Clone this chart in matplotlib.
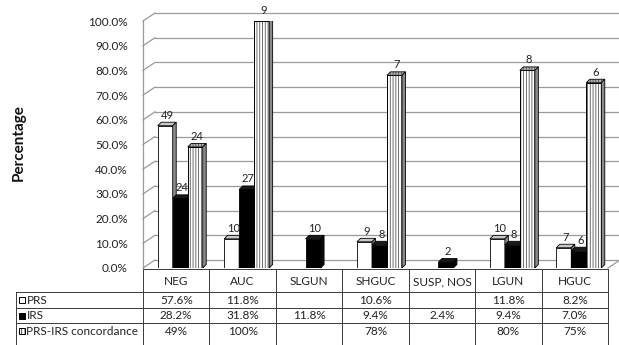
import matplotlib
matplotlib.use("Agg")
import matplotlib.pyplot as plt
from matplotlib.patches import Polygon, Rectangle

categories = ["NEG", "AUC", "SLGUN", "SHGUC", "SUSP, NOS", "LGUN", "HGUC"]
prs_pct = [57.6, 11.8, None, 10.6, None, 11.8, 8.2]
irs_pct = [28.2, 31.8, 11.8, 9.4, 2.4, 9.4, 7.0]
concord_pct = [49, 100, None, 78, None, 80, 75]
prs_n = [49, 10, None, 9, None, 10, 7]
irs_n = [24, 27, 10, 8, 2, 8, 6]
concord_n = [24, 9, None, 7, None, 8, 6]
series_names = ["PRS", "IRS", "PRS-IRS concordance"]
y_ticks = list(range(0, 101, 10))

W, H = 619, 345
plt.rcParams['font.family'] = ['Lato', 'DejaVu Sans']
plt.rcParams['hatch.linewidth'] = 0.6
fig = plt.figure(figsize=(W / 100, H / 100), dpi=100)


def px_box(x0, y0, x1, y1):
    """Pixel box (origin top-left) -> figure fraction rect."""
    return [x0 / W, 1 - y1 / H, (x1 - x0) / W, (y1 - y0) / H]


# pixel-space layer for the data table and side labels
tab = fig.add_axes([0, 0, 1, 1])
tab.set_xlim(0, W)
tab.set_ylim(H, 0)
tab.axis('off')

# chart layer
PL, PR, PT, PB = 143, 608, 21, 268
ax = fig.add_axes(px_box(PL, PT, PR, PB))
ax.set_xlim(-0.5, len(categories) - 0.5)
ax.set_ylim(0, 100)
ax.patch.set_visible(False)
for s in ax.spines.values():
    s.set_visible(False)
ax.set_xticks([])
ax.set_yticks(y_ticks)
ax.set_yticklabels([f"{v:.1f}%" for v in y_ticks], fontsize=8.5, color='#222222')
ax.tick_params(axis='y', length=0, pad=11)

xs = (PR - PL) / len(categories)   # px per category
ys = (PB - PT) / 100.0             # px per percent

# walls / floor in perspective
wdx, wdy = 12 / xs, 8 / ys
grid_c = '#9a9a9a'
x_lo, x_hi = -0.5, len(categories) - 0.5
for v in y_ticks:
    ax.plot([x_lo + wdx, x_hi + wdx + 0.2], [v + wdy, v + wdy], color=grid_c, lw=0.9,
            clip_on=False, zorder=1)
    ax.plot([x_lo, x_lo + wdx], [v, v + wdy], color=grid_c, lw=0.9, clip_on=False, zorder=1)
ax.plot([x_lo, x_lo], [0, 100], color=grid_c, lw=0.9, clip_on=False, zorder=1)
ax.plot([x_hi, x_hi + wdx], [0, wdy], color=grid_c, lw=0.9, clip_on=False, zorder=1)

# 3-D looking bars
bw = 15 / xs
shift = 4 / xs
bdx, bdy = 3.5 / xs, 3.5 / ys


def bar3d(x0, h, kind, z):
    x1 = x0 + bw
    top_pts = [(x0, h), (x1, h), (x1 + bdx, h + bdy), (x0 + bdx, h + bdy)]
    side_pts = [(x1, 0), (x1 + bdx, bdy), (x1 + bdx, h + bdy), (x1, h)]
    if kind == 0:
        face, top, side = 'white', '#c8c8c8', '#8c8c8c'
        ax.bar(x0, h, width=bw, align='edge', color=face, edgecolor='black', lw=0.6, zorder=z)
        ax.add_patch(Polygon(top_pts, closed=True, fc=top, ec='black', lw=0.6, zorder=z))
        ax.add_patch(Polygon(side_pts, closed=True, fc=side, ec='black', lw=0.6, zorder=z))
    elif kind == 1:
        ax.bar(x0, h, width=bw, align='edge', color='black', edgecolor='black', lw=0.6, zorder=z)
        ax.add_patch(Polygon(top_pts, closed=True, fc='#1a1a1a', ec='black', lw=0.6, zorder=z))
        ax.add_patch(Polygon(side_pts, closed=True, fc='#0a0a0a', ec='black', lw=0.6, zorder=z))
    else:
        ax.bar(x0, h, width=bw, align='edge', color='white', edgecolor='#555555', lw=0,
               hatch='||||||', zorder=z)
        ax.bar(x0, h, width=bw, align='edge', fill=False, edgecolor='black', lw=0.7, zorder=z)
        ax.add_patch(Polygon(top_pts, closed=True, fc='#b0b0b0', ec='#555555', lw=0,
                             hatch='||||||', zorder=z))
        ax.add_patch(Polygon(top_pts, closed=True, fill=False, ec='black', lw=0.6, zorder=z))
        ax.add_patch(Polygon(side_pts, closed=True, fc='#8a8a8a', ec='black', lw=0.6, zorder=z))


series = [(prs_pct, prs_n), (irs_pct, irs_n), (concord_pct, concord_n)]
for i in range(len(categories)):
    for k, (pct, cnt) in enumerate(series):
        h = pct[i]
        if h is None:
            continue
        x0 = i + shift - 1.5 * bw + k * bw
        bar3d(x0, h, k, 3 + i * 3 + k)
        ax.text(x0 + bw / 2 + bdx / 2, h + bdy + 0.6, str(cnt[i]), ha='center', va='bottom',
                fontsize=8, color='#222222', zorder=40, clip_on=False)

# y-axis title
tab.text(19, 143, "Percentage", rotation=90, ha='center', va='center',
         fontsize=11, fontweight='bold', color='#111111')

# data table
line_c = '#3a3a3a'
col_edges = [PL + k * xs for k in range(len(categories) + 1)]
table_top = PB + 1
row_lines = [292, 307.5, 323]
row_bottom = 345
left_edge = 15.7
tab.plot([PL, PR], [table_top, table_top], color=line_c, lw=0.7)
for yl in row_lines:
    tab.plot([left_edge, PR], [yl, yl], color=line_c, lw=0.7)
for xe in col_edges:
    tab.plot([xe, xe], [table_top, row_bottom], color=line_c, lw=0.7)
tab.plot([left_edge, left_edge], [row_lines[0], row_bottom], color=line_c, lw=0.7)

for i, c in enumerate(categories):
    tab.text((col_edges[i] + col_edges[i + 1]) / 2, (table_top + row_lines[0]) / 2 + 1, c,
             ha='center', va='center', fontsize=8.5, color='#222222')

row_centers = [(row_lines[0] + row_lines[1]) / 2, (row_lines[1] + row_lines[2]) / 2,
               (row_lines[2] + row_lines[2] + 15.5) / 2]
row_texts = [
    [None if v is None else f"{v:.1f}%" for v in prs_pct],
    [None if v is None else f"{v:.1f}%" for v in irs_pct],
    [None if v is None else f"{v:d}%" for v in concord_pct],
]
for r, vals in enumerate(row_texts):
    yc = row_centers[r] + 0.5
    for i, t in enumerate(vals):
        if t is None:
            continue
        tab.text((col_edges[i] + col_edges[i + 1]) / 2, yc, t, ha='center', va='center',
                 fontsize=8.5, color='#222222')
    # legend key
    ks = 6
    kx, ky = 18.5, row_centers[r] - ks / 2 + 0.5
    if r == 0:
        tab.add_patch(Rectangle((kx, ky), ks, ks, fc='white', ec='black', lw=0.7))
    elif r == 1:
        tab.add_patch(Rectangle((kx, ky), ks, ks, fc='black', ec='black', lw=0.7))
    else:
        tab.add_patch(Rectangle((kx, ky), ks, ks, fc='white', ec='#333333', lw=0, hatch='|||||'))
        tab.add_patch(Rectangle((kx, ky), ks, ks, fill=False, ec='black', lw=0.7))
    tab.text(kx + ks + 2, yc, series_names[r], ha='left', va='center', fontsize=8.5,
             color='#222222')

fig.savefig("out.png", dpi=100)
